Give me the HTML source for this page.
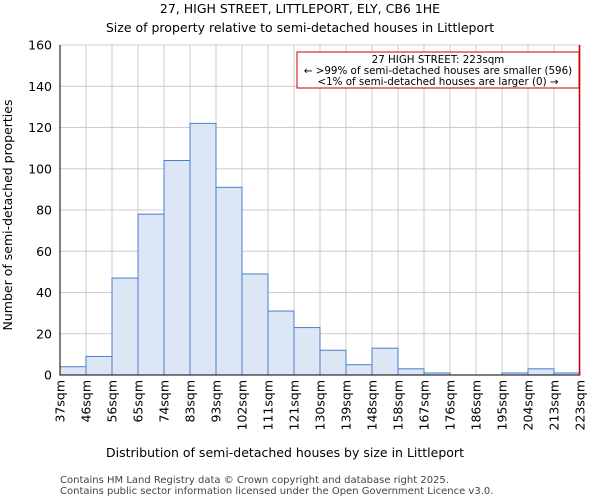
<!DOCTYPE html>
<html><head><meta charset="utf-8"><style>
body{margin:0;background:#fff;font-family:"DejaVu Sans","Liberation Sans",sans-serif}
</style></head><body>
<svg id="c" width="600" height="500" xmlns="http://www.w3.org/2000/svg" font-family="DejaVu Sans, Liberation Sans, sans-serif">
<text x="300" y="13" text-anchor="middle" font-size="12.5">27, HIGH STREET, LITTLEPORT, ELY, CB6 1HE</text>
<text x="300" y="32" text-anchor="middle" font-size="12.5">Size of property relative to semi-detached houses in Littleport</text>
<g id="grid"></g><g id="bars"></g><g id="axes"></g>
<text x="285" y="457" text-anchor="middle" font-size="12.5">Distribution of semi-detached houses by size in Littleport</text>
<text transform="translate(12,215) rotate(-90)" text-anchor="middle" font-size="12.5">Number of semi-detached properties</text>
<line x1="579.5" y1="45" x2="579.5" y2="375" stroke="#cc0000" stroke-width="1.5"/>
<g>
<rect x="297" y="52" width="282" height="36" fill="#fff" stroke="#cc0000" stroke-width="1"/>
<text x="438" y="63" text-anchor="middle" font-size="10.3">27 HIGH STREET: 223sqm</text>
<text x="438" y="74" text-anchor="middle" font-size="10.3">← &gt;99% of semi-detached houses are smaller (596)</text>
<text x="438" y="85" text-anchor="middle" font-size="10.3">&lt;1% of semi-detached houses are larger (0) →</text>
</g>
<text x="60" y="483" font-size="10" fill="#444">Contains HM Land Registry data © Crown copyright and database right 2025.</text>
<text x="60" y="494" font-size="10" fill="#444">Contains public sector information licensed under the Open Government Licence v3.0.</text>
</svg>
<script>
const categories=["37sqm","46sqm","56sqm","65sqm","74sqm","83sqm","93sqm","102sqm","111sqm","121sqm","130sqm","139sqm","148sqm","158sqm","167sqm","176sqm","186sqm","195sqm","204sqm","213sqm","223sqm"];
const counts=[4,9,47,78,104,122,91,49,31,23,12,5,13,3,1,0,0,1,3,1];
const yTicks=[0,20,40,60,80,100,120,140,160];
const X0=60,X1=580,Y0=375,Y1=45,YMAX=160;
const n=counts.length;
const bw=(X1-X0)/n;
const xs=i=>X0+i*bw;
const ys=v=>Y0-(v/YMAX)*(Y0-Y1);
const NS="http://www.w3.org/2000/svg";
function mk(t,a,p){const e=document.createElementNS(NS,t);for(const k in a)e.setAttribute(k,a[k]);p.appendChild(e);return e;}
const grid=document.getElementById('grid'),bars=document.getElementById('bars'),axes=document.getElementById('axes');
yTicks.forEach(v=>{
 const l=mk('line',{x1:X0,x2:X1,y1:ys(v),y2:ys(v),stroke:'#ccc','stroke-width':1},grid);
 
 
 const t=mk('text',{x:X0-8,y:ys(v)+4.5,'text-anchor':'end','font-size':12.5},axes);
 t.textContent=v;
 
 
});
categories.forEach((c,i)=>{
 const x=xs(i);
 const l=mk('line',{x1:x,x2:x,y1:Y1,y2:Y0,stroke:'#ccc','stroke-width':1},grid);
 
 
 const t=mk('text',{transform:`translate(${x+4.5},${Y0+5}) rotate(-90)`,'text-anchor':'end','font-size':12.5},axes);
 t.textContent=c;
 
 
});
counts.forEach((v,i)=>{
 const r=mk('rect',{x:xs(i),y:ys(v),width:bw,height:Y0-ys(v),fill:'#dce6f4',stroke:'#4a7fcf','stroke-width':1},bars);
 
 
});
const ax=mk('path',{d:`M${X0},${Y1}V${Y0}H${X1}`,fill:'none',stroke:'#000','stroke-width':1},axes);


</script>
</body></html>
